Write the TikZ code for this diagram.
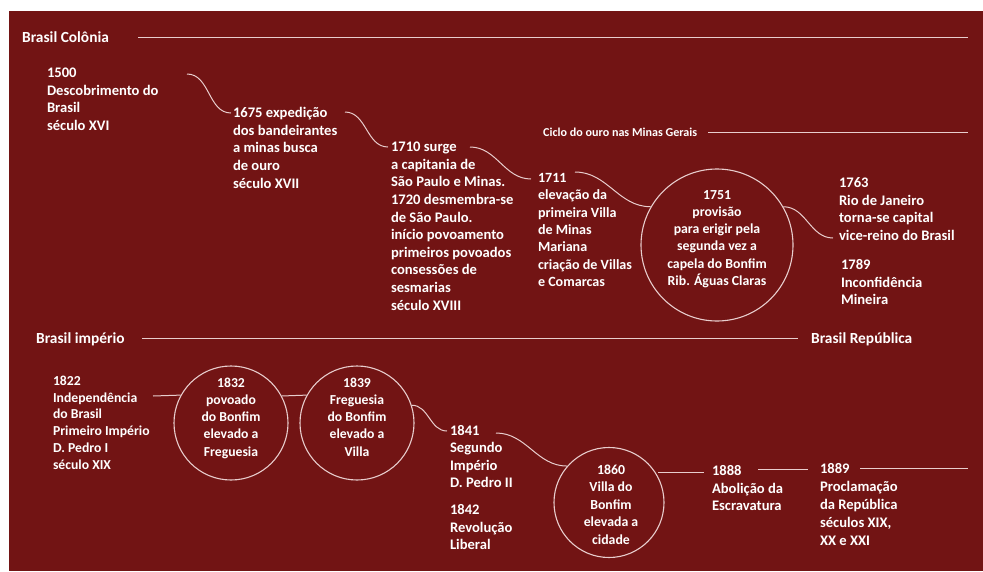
\documentclass[tikz,border=0pt]{standalone}
\usepackage{fontspec}
\setmainfont{Carlito}
\definecolor{bgred}{RGB}{114,20,20}
\definecolor{ln}{RGB}{232,205,205}
\newcommand{\fs}[2]{\bfseries\fontsize{#1}{#2}\selectfont}
\tikzset{
  blk/.style={font=\fs{14.6}{17.6}, text=white, align=left, anchor=north west, inner sep=0pt, outer sep=0pt},
  blkc/.style={blk, align=center, anchor=north},
  hdr/.style={font=\fs{15.4}{17}, text=white, anchor=base west, inner sep=0pt},
  small/.style={font=\fs{12.1}{14}, text=white, anchor=base west, inner sep=0pt},
  ring/.style={circle, draw=ln, line width=1.1pt, inner sep=0pt, minimum size=#1},
  conn/.style={draw=ln, line width=1pt},
}
\newcommand{\fl}{\rule{0pt}{12pt}}
\begin{document}
\begin{tikzpicture}[x=1pt,y=-1pt]
\useasboundingbox (0,0) rectangle (983,571);
\fill[white] (0,0) rectangle (983,571);
\fill[bgred] (9,11) rectangle (983,571);

% headers
\node[hdr] (hcol) at (22,42) {Brasil Colônia};
\coordinate (hcolA) at (138,37);
\coordinate (hcolB) at (968,37);
\draw[conn] (hcolA) -- (hcolB);

\node[small] (hciclo) at (543,136) {Ciclo do ouro nas Minas Gerais};
\coordinate (hcicA) at (708,132);
\coordinate (hcicB) at (968,132);
\draw[conn] (hcicA) -- (hcicB);

\node[hdr] (himp) at (36,343) {Brasil império};
\node[hdr] (hrep) at (811,343) {Brasil República};
\coordinate (himpA) at (142,338);
\coordinate (himpB) at (798,338);
\draw[conn] (himpA) -- (himpB);

% top row blocks
\node[blk] (b1500) at (47,65.6) {\fl 1500\\Descobrimento do\\Brasil\\século XVI};
\node[blk] (b1675) at (233,105.6) {\fl 1675 expedição\\dos bandeirantes\\a minas busca\\de ouro\\século XVII};
\node[blk] (b1710) at (391,139.6) {\fl 1710 surge\\a capitania de\\São Paulo e Minas.\\1720 desmembra-se\\de São Paulo.\\início povoamento\\primeiros povoados\\consessões de\\sesmarias\\século XVIII};
\node[blk, font=\fs{14.1}{17.3}] (b1711) at (538,170.5) {\fl 1711\\elevação da\\primeira Villa\\de Minas\\Mariana\\criação de Villas\\e Comarcas};
\node[ring=152] (c1751) at (717,245) {};
\node[blkc, font=\fs{13.8}{17.2}] (t1751) at (717,187.3) {\fl 1751\\provisão\\para erigir pela\\segunda vez a\\capela do Bonfim\\Rib. Águas Claras};
\node[blk] (b1763) at (839,175.6) {\fl 1763\\Rio de Janeiro\\torna-se capital\\vice-reino do Brasil};
\node[blk] (b1789) at (841,257.6) {\fl 1789\\Inconfidência\\Mineira};

% top connectors
\coordinate (k1a) at (187,74);
\coordinate (k1b) at (231,113);
\draw[conn] (k1a) to[out=0,in=180] (k1b);
\coordinate (k2a) at (345,112);
\coordinate (k2b) at (388,147);
\draw[conn] (k2a) to[out=0,in=180] (k2b);
\coordinate (k3a) at (470,147);
\coordinate (k3b) at (531,179);
\draw[conn] (k3a) to[out=0,in=180] (k3b);
\coordinate (k4a) at (575,172);
\draw[conn] (k4a) to[out=0,in=180] (c1751.150);
\coordinate (k5b) at (833,238);
\draw[conn] (c1751.30) to[out=0,in=180] (k5b);

% bottom row
\node[blk, font=\fs{13.7}{16.8}] (b1822) at (53,373.3) {\fl 1822\\Independência\\do Brasil\\Primeiro Império\\D. Pedro I\\século XIX};
\node[ring=114] (c1832) at (231,423) {};
\node[blkc, font=\fs{13.7}{17.2}] (t1832) at (231,375.3) {\fl 1832\\povoado\\do Bonfim\\elevado a\\Freguesia};
\node[ring=114] (c1839) at (357,423) {};
\node[blkc, font=\fs{13.7}{17.2}] (t1839) at (357,375.3) {\fl 1839\\Freguesia\\do Bonfim\\elevado a\\Villa};
\node[blk, font=\fs{14.6}{17.3}] (b1841) at (450,423.6) {\fl 1841\\Segundo\\Império\\D. Pedro II};
\node[blk, font=\fs{14.6}{17.5}] (b1842) at (450,502.6) {\fl 1842\\Revolução\\Liberal};
\node[ring=110] (c1860) at (609,502.5) {};
\node[blkc, font=\fs{13.8}{17.5}] (t1860) at (611,462.3) {\fl 1860\\Villa do\\Bonfim\\elevada a\\cidade};
\node[blk] (b1888) at (712,463.6) {\fl 1888\\Abolição da\\Escravatura};
\node[blk, font=\fs{14.6}{18}] (b1889) at (820,461.6) {\fl 1889\\Proclamação\\da República\\séculos XIX,\\XX e XXI};

% bottom connectors
\coordinate (k6a) at (153,396);
\draw[conn] (k6a) -- (c1832.151.7);
\draw[conn] (c1832.28.3) -- (c1839.151.7);
\coordinate (k8b) at (447,431);
\draw[conn] (c1839.18) to[out=0,in=180] (k8b);
\coordinate (k9a) at (496,433);
\draw[conn] (k9a) to[out=0,in=180] (c1860.139);
\coordinate (k10a) at (658,472);
\coordinate (k10b) at (704,472);
\draw[conn] (k10a) -- (k10b);
\coordinate (k11a) at (758,469);
\coordinate (k11b) at (808,469);
\draw[conn] (k11a) -- (k11b);
\coordinate (k12a) at (860,468);
\coordinate (k12b) at (968,468);
\draw[conn] (k12a) -- (k12b);
\end{tikzpicture}
\end{document}
